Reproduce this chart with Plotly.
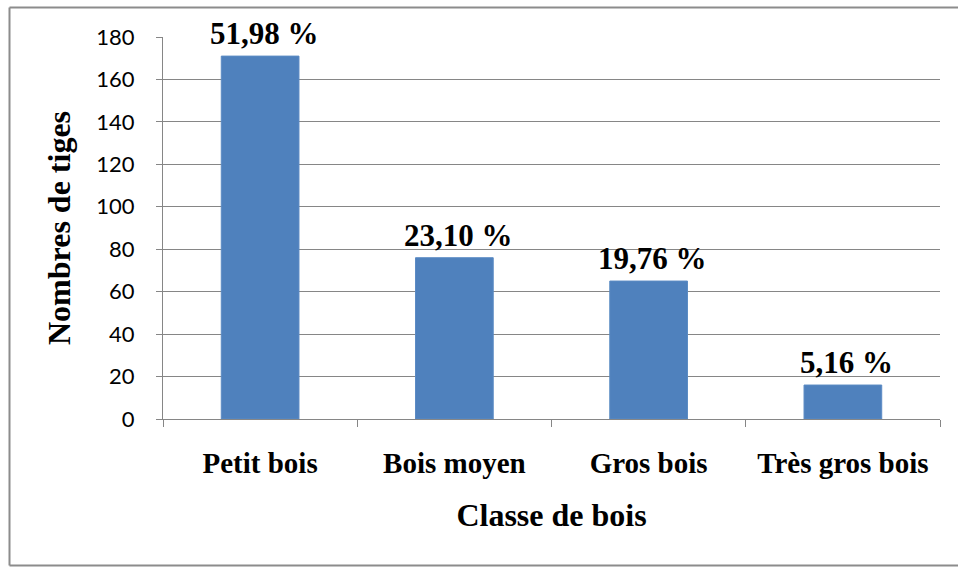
import plotly.graph_objects as go

categories = ["Petit bois", "Bois moyen", "Gros bois", "Très gros bois"]
counts = [171, 76, 65, 16]
pct_labels = ["51,98 %", "23,10 %", "19,76 %", "5,16 %"]
y_ticks = [0, 20, 40, 60, 80, 100, 120, 140, 160, 180]

serif = "Liberation Serif"
grid_col = "#868686"
frame_col = "#8c8c8c"

fig = go.Figure(go.Bar(
    x=categories, y=counts,
    marker=dict(color="#4F81BD", line=dict(color="#5B8BC4", width=1)),
    width=0.4, cliponaxis=False, hoverinfo="x+y",
))

for cat, val, lab in zip(categories, counts, pct_labels):
    fig.add_annotation(x=cat, y=val, text=f"<b>{lab}</b>", showarrow=False,
                       xanchor="center", yanchor="bottom", xshift=4, yshift=3,
                       font=dict(family=serif, size=31, color="black"))

L, R, T, B = 163, 18, 37, 148
W, H = 958, 567
pw, ph = W - L - R, H - T - B

fig.update_layout(
    width=W, height=H,
    margin=dict(l=L, r=R, t=T, b=B, pad=0),
    paper_bgcolor="white", plot_bgcolor="white",
    showlegend=False,
    xaxis=dict(
        type="category", tickson="boundaries", ticks="outside", ticklen=7,
        tickcolor=grid_col, tickwidth=1, automargin=False,
        showline=True, linecolor=grid_col, linewidth=1, showgrid=False,
        tickfont=dict(family=serif, size=29, color="black"),
        ticklabelstandoff=18,
        title=dict(text="<b>Classe de bois</b>", font=dict(family=serif, size=32, color="black"), standoff=25),
    ),
    yaxis=dict(
        range=[0, 180], tickmode="array", tickvals=y_ticks,
        ticks="outside", ticklen=6, tickcolor=grid_col, tickwidth=1, automargin=False,
        showline=True, linecolor=grid_col, linewidth=1,
        showgrid=True, gridcolor=grid_col, gridwidth=1, zeroline=False,
        tickfont=dict(family="Lato", size=22, color="black"),
        ticklabelstandoff=17,
        title=dict(text="<b>Nombres de tiges</b>", font=dict(family=serif, size=32, color="black"), standoff=16),
    ),
    font=dict(family=serif, color="black"),
)
fig.update_xaxes(tickprefix="<b>", ticksuffix="</b>")

# outer chart frame (top, left, bottom edges)
x_left = (9.5 - L) / pw
x_right = (W - L) / pw
y_bot = (H - B - 565.5) / ph
y_top = (H - B - 7.5) / ph
for x0, y0, x1, y1 in [(x_left, y_top, x_right, y_top),
                       (x_left, y_bot, x_left, y_top),
                       (x_left, y_bot, x_right, y_bot)]:
    fig.add_shape(type="line", xref="paper", yref="paper",
                  x0=x0, y0=y0, x1=x1, y1=y1,
                  line=dict(color=frame_col, width=2), layer="below")

fig.write_html("out.html", config={"displayModeBar": False},
               post_script="document.body.style.margin='0px';document.body.style.overflow='hidden';")
